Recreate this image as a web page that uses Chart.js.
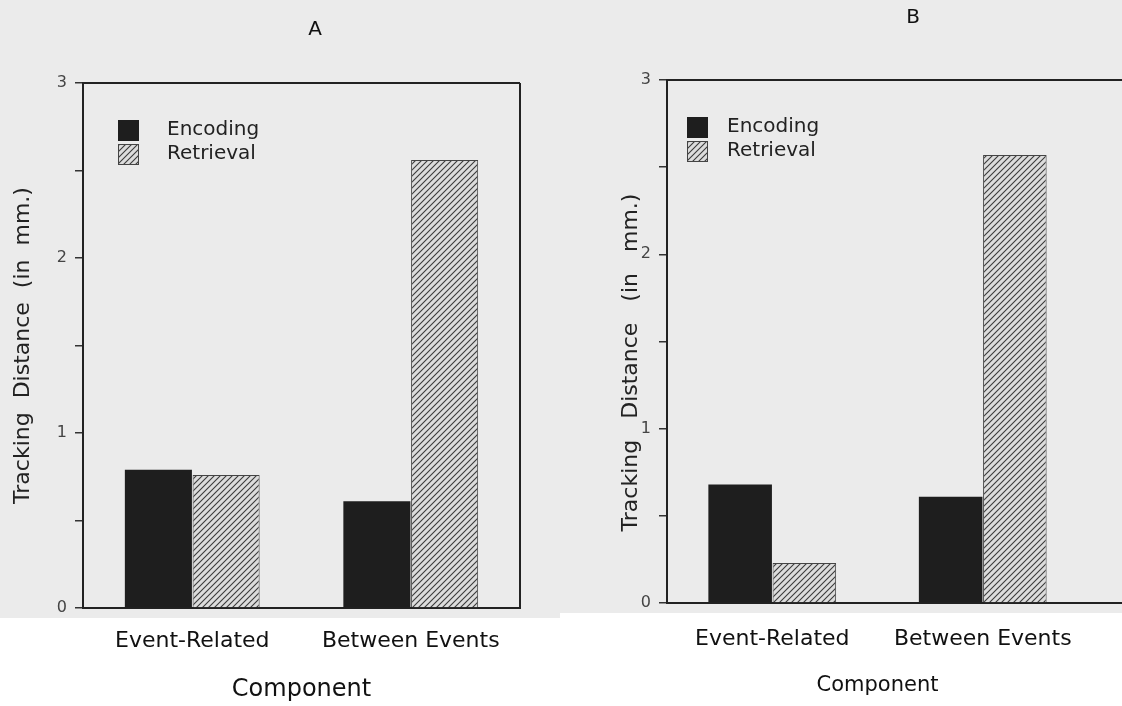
<!DOCTYPE html>
<html lang="en">
<head>
<meta charset="UTF-8">
<title>Tracking Distance by Component</title>
<script src="https://cdn.jsdelivr.net/npm/chart.js"></script>
<style>
    body {
        margin: 0;
        background: #ffffff;
        overflow: hidden;
    }
    .panel {
        position: absolute;
        top: 0;
    }
    #panelA { left: 0; }
    #panelB { left: 560px; }
</style>
</head>
<body>
<div class="panel" id="panelA"><canvas id="chartA" width="560" height="706"></canvas></div>
<div class="panel" id="panelB"><canvas id="chartB" width="562" height="706"></canvas></div>
<script>
// data
const categories = ['Event-Related', 'Between Events'];
const seriesNames = ['Encoding', 'Retrieval'];
const encodingA = [0.79, 0.61];
const retrievalA = [0.76, 2.56];
const encodingB = [0.68, 0.61];
const retrievalB = [0.23, 2.57];
const yMax = 3;
const yStep = 0.5;

const FONT = "'DejaVu Sans', sans-serif";

function hatch() {
    const s = 6;
    const c = document.createElement('canvas');
    c.width = s; c.height = s;
    const g = c.getContext('2d');
    g.fillStyle = '#dcdcdc';
    g.fillRect(0, 0, s, s);
    g.strokeStyle = '#3a3a3a';
    g.lineWidth = 1.1;
    g.beginPath();
    g.moveTo(0, s); g.lineTo(s, 0);
    g.moveTo(-1, 1); g.lineTo(1, -1);
    g.moveTo(s - 1, s + 1); g.lineTo(s + 1, s - 1);
    g.stroke();
    return g.createPattern(c, 'repeat');
}

// page background, frame, legend and panel letter
const panelDeco = {
    id: 'panelDeco',
    beforeDraw(chart, args, opts) {
        const {ctx, chartArea: a, width} = chart;
        ctx.save();
        ctx.fillStyle = '#ebebeb';
        ctx.fillRect(0, 0, width, a.bottom + 10);
        ctx.restore();
    },
    afterDraw(chart, args, opts) {
        const {ctx, chartArea: a, width} = chart;
        ctx.save();
        ctx.strokeStyle = '#222';
        ctx.lineWidth = 2;
        ctx.beginPath();
        ctx.moveTo(a.left, a.top);
        ctx.lineTo(opts.toEdge ? width : a.right, a.top);
        if (opts.rightLine) {
            ctx.moveTo(a.right, a.top);
            ctx.lineTo(a.right, a.bottom);
        }
        if (opts.toEdge) {
            ctx.moveTo(a.right, a.bottom);
            ctx.lineTo(width, a.bottom);
        }
        ctx.stroke();

        // legend
        ctx.font = '20px ' + FONT;
        ctx.textBaseline = 'middle';
        chart.data.datasets.forEach((ds, i) => {
            const x = a.left + opts.legendX;
            const y = a.top + 37 + i * 24;
            ctx.fillStyle = ds.backgroundColor;
            ctx.fillRect(x, y, 21, 21);
            if (ds.borderWidth) {
                ctx.strokeStyle = '#444';
                ctx.lineWidth = 1;
                ctx.strokeRect(x + 0.5, y + 0.5, 20, 20);
            }
            ctx.fillStyle = '#222';
            ctx.fillText(ds.label, x + opts.textGap, y + 10);
        });

        // panel letter
        ctx.font = '20px ' + FONT;
        ctx.textAlign = 'center';
        ctx.fillStyle = '#111';
        ctx.fillText(opts.letter, opts.letterX, opts.letterY);
        ctx.restore();
    }
};

function makeChart(id, enc, ret, cfg) {
    const pattern = hatch();
    return new Chart(document.getElementById(id), {
        type: 'bar',
        data: {
            labels: categories,
            datasets: [
                {
                    label: seriesNames[0],
                    data: enc,
                    backgroundColor: '#1e1e1e',
                    borderWidth: 0
                },
                {
                    label: seriesNames[1],
                    data: ret,
                    backgroundColor: pattern,
                    borderColor: '#444',
                    borderWidth: 1
                }
            ]
        },
        options: {
            responsive: false,
            animation: false,
            categoryPercentage: cfg.catPct,
            barPercentage: 0.99,
            layout: {
                padding: {top: cfg.top, right: cfg.right, left: 0, bottom: 0}
            },
            plugins: {
                legend: {display: false},
                title: {display: false},
                tooltip: {enabled: false},
                panelDeco: {
                    letter: cfg.letter,
                    letterX: cfg.letterX,
                    letterY: cfg.letterY,
                    legendX: cfg.legendX,
                    textGap: cfg.textGap,
                    rightLine: cfg.rightLine,
                    toEdge: cfg.toEdge
                }
            },
            scales: {
                x: {
                    afterFit: (s) => { s.height = cfg.xHeight; },
                    grid: {display: false},
                    border: {display: true, color: '#222', width: 2},
                    ticks: {
                        color: '#111',
                        padding: cfg.xPad,
                        font: {family: FONT, size: 22}
                    },
                    title: {
                        display: true,
                        text: 'Component',
                        color: '#111',
                        font: {family: FONT, size: cfg.xTitleSize},
                        padding: {top: 0, bottom: cfg.xTitleBottom}
                    }
                },
                y: {
                    min: 0,
                    max: yMax,
                    afterFit: (s) => { s.width = cfg.yWidth; },
                    grid: {
                        drawOnChartArea: false,
                        drawTicks: true,
                        tickLength: 8,
                        color: '#333',
                        lineWidth: 1.5
                    },
                    border: {display: true, color: '#222', width: 2},
                    ticks: {
                        stepSize: yStep,
                        color: '#444',
                        padding: 8,
                        font: {family: FONT, size: 16},
                        callback: (v) => Number.isInteger(v) ? String(v) : ''
                    },
                    title: {
                        display: true,
                        text: cfg.yTitle,
                        color: '#222',
                        font: {family: FONT, size: 22},
                        padding: {top: cfg.yTitlePad, bottom: 0}
                    }
                }
            }
        },
        plugins: [panelDeco]
    });
}

makeChart('chartA', encodingA, retrievalA, {
    top: 83, right: 40, xHeight: 98, xPad: 12, xTitleBottom: 2, xTitleSize: 24,
    yWidth: 83, yTitlePad: 10, catPct: 0.62,
    yTitle: 'Tracking  Distance  (in  mm.)',
    letter: 'A', letterX: 315, letterY: 30,
    legendX: 35, textGap: 49, rightLine: true, toEdge: false
});

makeChart('chartB', encodingB, retrievalB, {
    top: 80, right: 34, xHeight: 103, xPad: 15, xTitleBottom: 8, xTitleSize: 21,
    yWidth: 107, yTitlePad: 58, catPct: 0.61,
    yTitle: 'Tracking   Distance   (in   mm.)      ',
    letter: 'B', letterX: 353, letterY: 18,
    legendX: 20, textGap: 40, rightLine: false, toEdge: true
});
</script>
</body>
</html>
